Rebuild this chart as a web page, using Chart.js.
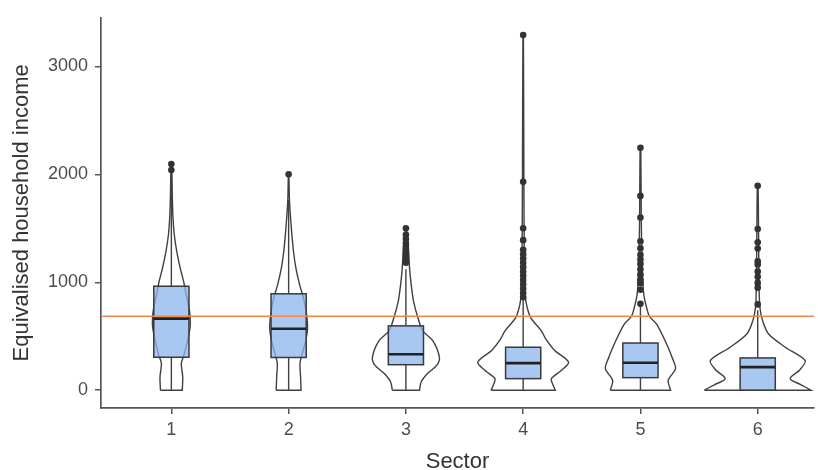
<!DOCTYPE html>
<html>
<head>
<meta charset="utf-8">
<script src="https://cdn.jsdelivr.net/npm/chart.js@4"></script>
<style>
  html, body { margin: 0; padding: 0; background: #fff; }
  #wrap { width: 818px; height: 470px; }
</style>
</head>
<body>
<div id="wrap"><canvas id="chart" width="818" height="470"></canvas></div>
<script>
// sectors on the x axis
const sectors = [1, 2, 3, 4, 5, 6];

// box plot summaries
const q1 = [305, 303, 236, 107, 116, 0];
const medians = [663, 569, 333, 251, 254, 214];
const q3 = [963, 893, 596, 398, 437, 299];
const whiskerLow = [0, 0, 0, 0, 0, 0];
const whiskerHigh = [1950, 1760, 1120, 830, 780, 740];

// outliers per sector
const outliers = [
    [2040, 2095],
    [2000],
    [1180, 1210, 1240, 1270, 1300, 1330, 1360, 1400, 1440, 1500],
    [860, 900, 940, 980, 1020, 1060, 1100, 1140, 1180, 1220, 1260, 1300, 1390, 1500, 1930, 3290],
    [800, 930, 990, 1020, 1070, 1120, 1170, 1210, 1255, 1315, 1380, 1600, 1800, 2245],
    [795, 950, 994, 1050, 1100, 1165, 1193, 1312, 1370, 1493, 1893]
];

// violin outlines: income levels and half widths (in sector units)
const violinLevels = [
    [0, 120, 250, 320, 450, 600, 750, 900, 1000, 1130, 1280, 1440, 1600, 1800, 2000, 2100],
    [0, 120, 250, 350, 450, 570, 700, 850, 980, 1130, 1280, 1440, 1590, 1740, 1900, 2000],
    [0, 76, 156, 230, 305, 459, 550, 673, 826, 979, 1131, 1284, 1468, 1500],
    [0, 50, 107, 180, 260, 367, 470, 550, 673, 795, 917, 1100, 1500, 2000, 3290],
    [0, 92, 199, 300, 428, 612, 685, 764, 850, 920, 1000, 1200, 1600, 2245],
    [0, 50, 107, 190, 275, 398, 520, 642, 764, 900, 1100, 1500, 1893]
];
const violinWidths = [
    [0.093, 0.097, 0.085, 0.106, 0.136, 0.161, 0.153, 0.123, 0.106, 0.076, 0.047, 0.025, 0.014, 0.008, 0.005, 0.002],
    [0.106, 0.102, 0.097, 0.119, 0.144, 0.161, 0.153, 0.127, 0.093, 0.062, 0.042, 0.028, 0.017, 0.008, 0.004, 0.002],
    [0.116, 0.130, 0.186, 0.263, 0.286, 0.229, 0.144, 0.102, 0.065, 0.045, 0.031, 0.023, 0.008, 0.003],
    [0.274, 0.254, 0.240, 0.322, 0.387, 0.269, 0.195, 0.155, 0.064, 0.028, 0.014, 0.011, 0.008, 0.006, 0.002],
    [0.257, 0.237, 0.299, 0.271, 0.223, 0.138, 0.076, 0.053, 0.034, 0.025, 0.021, 0.013, 0.007, 0.003],
    [0.455, 0.37, 0.277, 0.36, 0.404, 0.235, 0.093, 0.042, 0.019, 0.013, 0.010, 0.007, 0.003]
];

// reference line
const refLine = 685;

const yTicks = [0, 1000, 2000, 3000];
const xMin = 0.4, xMax = 6.48;
const boxHalf = 0.15;

const FONT = "'Liberation Sans', Arial, sans-serif";

// build a closed outline for one violin (bottom corners doubled to keep the base flat)
function violinPoints(i) {
    const s = sectors[i];
    const lv = violinLevels[i], w = violinWidths[i];
    const pts = [];
    pts.push({ x: s - w[0], y: lv[0] });
    for (let k = 0; k < lv.length; k++) pts.push({ x: s - w[k], y: lv[k] });
    for (let k = lv.length - 1; k >= 0; k--) pts.push({ x: s + w[k], y: lv[k] });
    pts.push({ x: s + w[0], y: lv[0] });
    pts.push({ x: s - w[0], y: lv[0] });
    return pts;
}

const outlierPoints = [];
outliers.forEach((list, i) => list.forEach(v => outlierPoints.push({ x: sectors[i], y: v })));

const datasets = [
    {
        data: [{ x: xMin, y: refLine }, { x: xMax, y: refLine }],
        showLine: true, borderColor: '#f0884a', borderWidth: 1.7, pointRadius: 0
    },
    {
        data: outlierPoints,
        pointRadius: 3.3, pointBackgroundColor: '#333', pointBorderColor: '#333', pointBorderWidth: 0
    }
];
sectors.forEach((s, i) => {
    datasets.push({
        data: violinPoints(i),
        showLine: true, tension: 0.3, borderColor: '#404040', borderWidth: 1.4,
        pointRadius: 0, fill: false
    });
});

const boxPlugin = {
    id: 'boxes',
    afterDatasetDraw(chart, args) {
        if (args.index !== 2) return;
        const ctx = chart.ctx;
        const x = chart.scales.x, y = chart.scales.y;
        ctx.save();
        sectors.forEach((s, i) => {
            const cx = x.getPixelForValue(s);
            const l = x.getPixelForValue(s - boxHalf), r = x.getPixelForValue(s + boxHalf);
            const top = y.getPixelForValue(q3[i]), bot = y.getPixelForValue(q1[i]);
            // whiskers
            ctx.strokeStyle = '#404040';
            ctx.lineWidth = 1.4;
            ctx.beginPath();
            ctx.moveTo(cx, top); ctx.lineTo(cx, y.getPixelForValue(whiskerHigh[i]));
            ctx.moveTo(cx, bot); ctx.lineTo(cx, y.getPixelForValue(whiskerLow[i]));
            ctx.stroke();
            // box
            ctx.fillStyle = 'rgba(140,182,236,0.75)';
            ctx.fillRect(l, top, r - l, bot - top);
            ctx.strokeStyle = '#3a3a3a';
            ctx.lineWidth = 1.5;
            ctx.strokeRect(l, top, r - l, bot - top);
            // median
            const m = y.getPixelForValue(medians[i]);
            ctx.strokeStyle = '#222';
            ctx.lineWidth = 2.6;
            ctx.beginPath();
            ctx.moveTo(l, m); ctx.lineTo(r, m);
            ctx.stroke();
        });
        ctx.restore();
    }
};

new Chart(document.getElementById('chart'), {
    type: 'scatter',
    data: { datasets: datasets },
    plugins: [boxPlugin],
    options: {
        responsive: false,
        devicePixelRatio: 1,
        animation: false,
        layout: { padding: { top: 14, right: 0, left: 0, bottom: 0 } },
        plugins: { legend: { display: false }, tooltip: { enabled: false } },
        scales: {
            x: {
                type: 'linear',
                min: xMin, max: xMax,
                afterBuildTicks: sc => { sc.ticks = sectors.map(v => ({ value: v })); },
                afterFit: sc => { sc.height = 62; },
                border: { display: true, color: '#555', width: 1.7 },
                grid: { display: true, drawOnChartArea: false, drawTicks: true, tickLength: 6, color: '#555', lineWidth: 1.5 },
                ticks: { color: '#4d4d4d', font: { family: FONT, size: 18 }, padding: 5, callback: v => String(v) },
                title: {
                    display: true, text: 'Sector', color: '#333',
                    font: { family: FONT, size: 22, lineHeight: 0.75 }, padding: { top: 0, bottom: 0 }
                }
            },
            y: {
                min: -165, max: 3450,
                afterBuildTicks: sc => { sc.ticks = yTicks.map(v => ({ value: v })); },
                afterFit: sc => { sc.width = 101; },
                border: { display: true, color: '#555', width: 1.7 },
                grid: { display: true, drawOnChartArea: false, drawTicks: true, tickLength: 6, color: '#555', lineWidth: 1.5 },
                ticks: { color: '#4d4d4d', font: { family: FONT, size: 18 }, padding: 7, callback: v => String(v) },
                title: {
                    display: true, text: 'Equivalised household income', color: '#333',
                    font: { family: FONT, size: 22, lineHeight: 1 }, padding: { top: 11, bottom: 0 }
                }
            }
        }
    }
});
</script>
</body>
</html>
